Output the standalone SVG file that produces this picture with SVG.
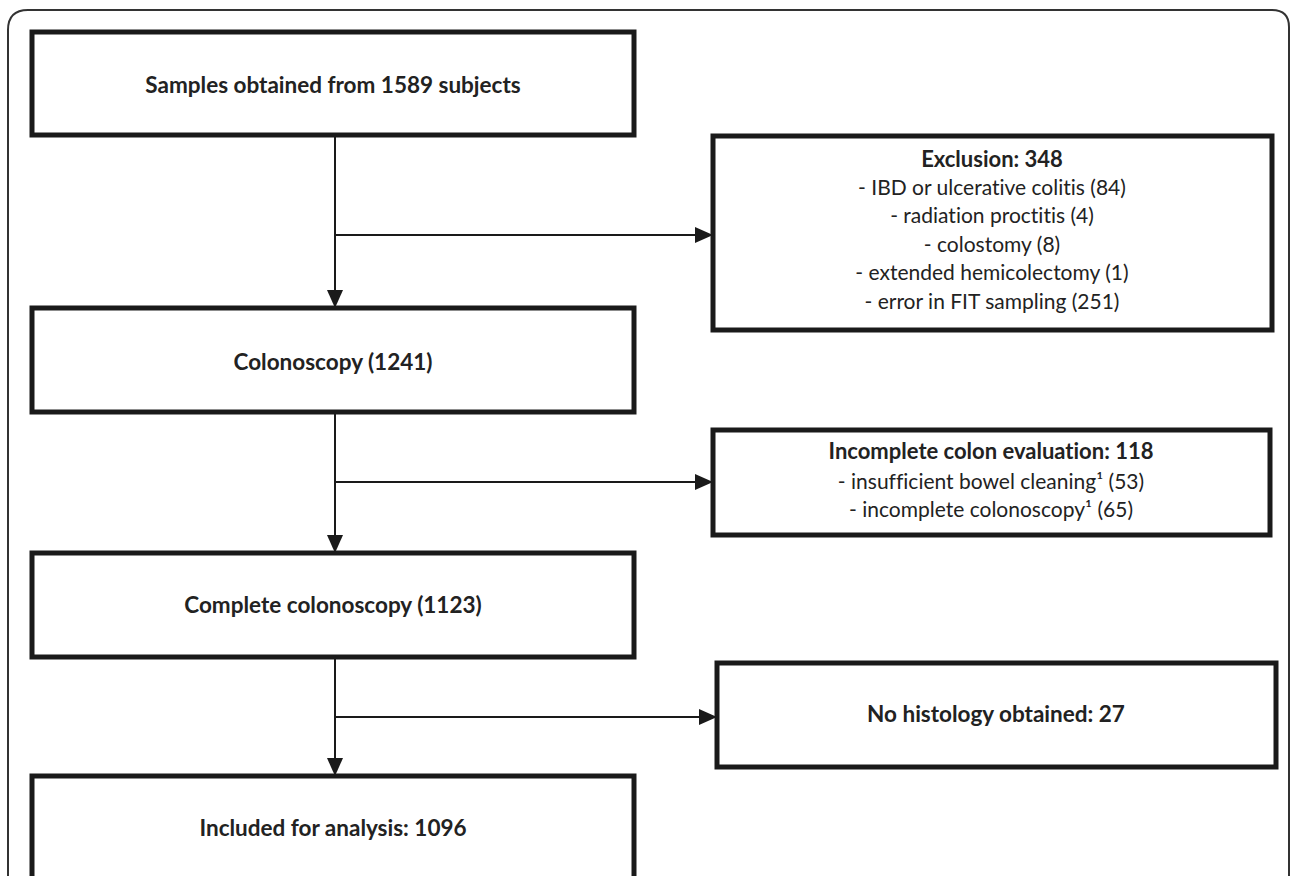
<svg xmlns="http://www.w3.org/2000/svg" width="1293" height="876" viewBox="0 0 1293 876">
<style>
.frame{fill:none;stroke:#333;stroke-width:2}
.box{fill:#fff;stroke:#1a1a1a;stroke-width:5}
.conn{fill:none;stroke:#1a1a1a;stroke-width:2}
text{font-family:Lato,"Open Sans","Liberation Sans",sans-serif;fill:#222;text-anchor:middle;font-variant-ligatures:none}
.t{font-size:22.5px;font-weight:bold}
.h{font-size:22px;font-weight:bold}
.r{font-size:21px}
</style>
<defs>
<marker id="arr" markerUnits="userSpaceOnUse" markerWidth="18" markerHeight="16" refX="18" refY="8" orient="auto">
<path d="M0,0 L18,8 L0,16 z" fill="#1a1a1a"/>
</marker>
</defs>
<rect width="1293" height="876" fill="#fff"/>
<path class="frame" d="M8,900 V30 Q8,10 28,10 H1272 Q1289,10 1289,27 V900"/>
<g id="connectors">
<path class="conn" d="M335,136 V308" marker-end="url(#arr)"/>
<path class="conn" d="M335,235 H713" marker-end="url(#arr)"/>
<path class="conn" d="M335,412 V553" marker-end="url(#arr)"/>
<path class="conn" d="M335,482 H713" marker-end="url(#arr)"/>
<path class="conn" d="M335,657 V776" marker-end="url(#arr)"/>
<path class="conn" d="M335,717 H717" marker-end="url(#arr)"/>
</g>
<g id="samples">
<rect class="box" x="32" y="32" width="602" height="103"/>
<text class="t" x="333" y="93">Samples obtained from 1589 subjects</text>
</g>
<g id="exclusion">
<rect class="box" x="713" y="136" width="559" height="194"/>
<text class="h" x="992" y="167">Exclusion: 348</text>
<text class="r" x="992" y="195">- IBD or ulcerative colitis (84)</text>
<text class="r" x="992" y="223">- radiation proctitis (4)</text>
<text class="r" x="992" y="252">- colostomy (8)</text>
<text class="r" x="992" y="280">- extended hemicolectomy (1)</text>
<text class="r" x="992" y="309">- error in FIT sampling (251)</text>
</g>
<g id="colonoscopy">
<rect class="box" x="32" y="308" width="602" height="104"/>
<text class="t" x="333" y="370">Colonoscopy (1241)</text>
</g>
<g id="incomplete">
<rect class="box" x="713" y="430" width="557" height="105"/>
<text class="h" x="991" y="459">Incomplete colon evaluation: 118</text>
<text class="r" x="991" y="489">- insufficient bowel cleaning¹ (53)</text>
<text class="r" x="991" y="517">- incomplete colonoscopy¹ (65)</text>
</g>
<g id="complete">
<rect class="box" x="32" y="553" width="602" height="104"/>
<text class="t" x="333" y="613">Complete colonoscopy (1123)</text>
</g>
<g id="nohistology">
<rect class="box" x="717" y="663" width="559" height="104"/>
<text class="t" x="996" y="722">No histology obtained: 27</text>
</g>
<g id="included">
<rect class="box" x="32" y="776" width="602" height="104"/>
<text class="t" x="333" y="836">Included for analysis: 1096</text>
</g>
</svg>
